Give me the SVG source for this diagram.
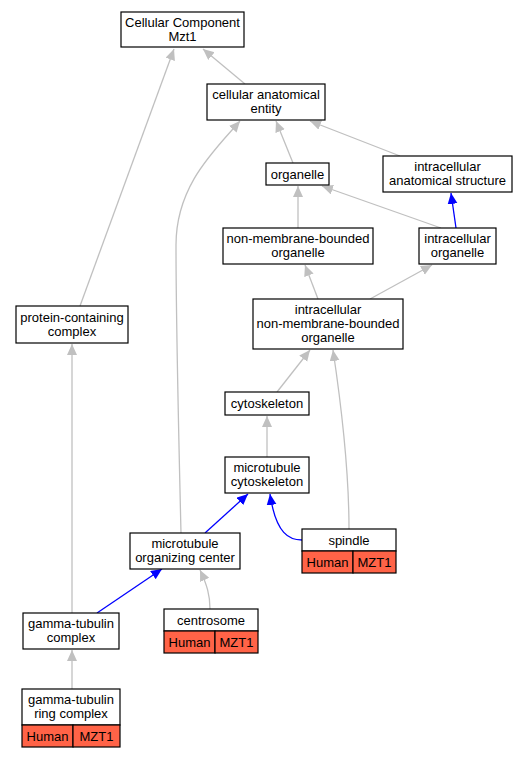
<svg xmlns="http://www.w3.org/2000/svg" width="528" height="757" viewBox="0 0 528 757">
<style>
text{font-family:"Liberation Sans",Arial,sans-serif;font-size:13px;text-anchor:middle;fill:#000}
.n{fill:#fff;stroke:#000;stroke-width:1.2}
.h{fill:#ff6347;stroke:#000;stroke-width:1.2}
.g{fill:none;stroke:#c0c0c0;stroke-width:1.3}
.b{fill:none;stroke:#0000ff;stroke-width:1.3}
</style>
<defs>
<marker id="ag" markerUnits="userSpaceOnUse" markerWidth="12" markerHeight="11" refX="11" refY="5" orient="auto"><path d="M0,0 L11,5 L0,10 z" fill="#c0c0c0"/></marker>
<marker id="ab" markerUnits="userSpaceOnUse" markerWidth="12" markerHeight="11" refX="11" refY="5" orient="auto"><path d="M0,0 L11,5 L0,10 z" fill="#0000ff"/></marker>
</defs>
<rect width="528" height="757" fill="#fff"/>
<g id="edges">
<path class="g" marker-end="url(#ag)" d="M245,84 L203,49"/>
<path class="g" marker-end="url(#ag)" d="M80,306 L174,49"/>
<path class="g" marker-end="url(#ag)" d="M293,163 L276,121"/>
<path class="g" marker-end="url(#ag)" d="M400,156 L310,121"/>
<path class="g" marker-end="url(#ag)" d="M181,533 C179,450 176,320 176,245 C176,185 215,150 240,121"/>
<path class="g" marker-end="url(#ag)" d="M298,228 L298,186"/>
<path class="g" marker-end="url(#ag)" d="M441,228 L322,186"/>
<path class="b" marker-end="url(#ab)" d="M456,228 L451,193"/>
<path class="g" marker-end="url(#ag)" d="M318,299 L305,265"/>
<path class="g" marker-end="url(#ag)" d="M370,299 L432,265"/>
<path class="g" marker-end="url(#ag)" d="M277,392 L310,350"/>
<path class="g" marker-end="url(#ag)" d="M349,529 C349,470 342,410 333,350"/>
<path class="g" marker-end="url(#ag)" d="M267,457 L267,416"/>
<path class="b" marker-end="url(#ab)" d="M205,533 L248,494"/>
<path class="b" marker-end="url(#ab)" d="M302,540 C290,540 276,535 270,494"/>
<path class="b" marker-end="url(#ab)" d="M97,613 L162,569"/>
<path class="g" marker-end="url(#ag)" d="M210,609 C210,595 207,585 200,570"/>
<path class="g" marker-end="url(#ag)" d="M72,613 L72,344"/>
<path class="g" marker-end="url(#ag)" d="M72,689 L72,650"/>
</g>
<g id="n1"><rect class="n" x="121" y="12" width="123" height="35"/><text x="182.5" y="27">Cellular Component</text><text x="182.5" y="41">Mzt1</text></g>
<g id="n2"><rect class="n" x="207" y="84" width="118" height="36"/><text x="266" y="99">cellular anatomical</text><text x="266" y="113">entity</text></g>
<g id="n3"><rect class="n" x="266" y="163" width="63" height="22"/><text x="297.5" y="178.5">organelle</text></g>
<g id="n4"><rect class="n" x="383" y="156" width="129" height="36"/><text x="447.5" y="171">intracellular</text><text x="447.5" y="185">anatomical structure</text></g>
<g id="n5"><rect class="n" x="223" y="228" width="150" height="36"/><text x="298" y="243">non-membrane-bounded</text><text x="298" y="257">organelle</text></g>
<g id="n6"><rect class="n" x="419" y="228" width="77" height="36"/><text x="457.5" y="243">intracellular</text><text x="457.5" y="257">organelle</text></g>
<g id="n7"><rect class="n" x="253" y="299" width="150" height="50"/><text x="328" y="314">intracellular</text><text x="328" y="328">non-membrane-bounded</text><text x="328" y="342">organelle</text></g>
<g id="n8"><rect class="n" x="16" y="306" width="112" height="37"/><text x="72" y="321.5">protein-containing</text><text x="72" y="335.5">complex</text></g>
<g id="n9"><rect class="n" x="225" y="392" width="84" height="23"/><text x="267" y="408">cytoskeleton</text></g>
<g id="n10"><rect class="n" x="225" y="457" width="84" height="36"/><text x="267" y="472">microtubule</text><text x="267" y="486">cytoskeleton</text></g>
<g id="n11"><rect class="n" x="302" y="529" width="94" height="22"/><rect class="h" x="302" y="551" width="51" height="22"/><rect class="h" x="353" y="551" width="43" height="22"/><text x="349" y="544.5">spindle</text><text x="327.5" y="566.5">Human</text><text x="374.5" y="566.5">MZT1</text></g>
<g id="n12"><rect class="n" x="130" y="533" width="110" height="36"/><text x="185" y="548">microtubule</text><text x="185" y="562">organizing center</text></g>
<g id="n13"><rect class="n" x="164" y="609" width="94" height="22"/><rect class="h" x="164" y="631" width="51" height="22"/><rect class="h" x="215" y="631" width="43" height="22"/><text x="211" y="624.5">centrosome</text><text x="189.5" y="646.5">Human</text><text x="236.5" y="646.5">MZT1</text></g>
<g id="n14"><rect class="n" x="23" y="613" width="96" height="36"/><text x="71" y="628">gamma-tubulin</text><text x="71" y="642">complex</text></g>
<g id="n15"><rect class="n" x="22" y="689" width="98" height="36"/><rect class="h" x="22" y="725" width="51" height="22"/><rect class="h" x="73" y="725" width="47" height="22"/><text x="71" y="704">gamma-tubulin</text><text x="71" y="718">ring complex</text><text x="47.5" y="740.5">Human</text><text x="96.5" y="740.5">MZT1</text></g>
</svg>
